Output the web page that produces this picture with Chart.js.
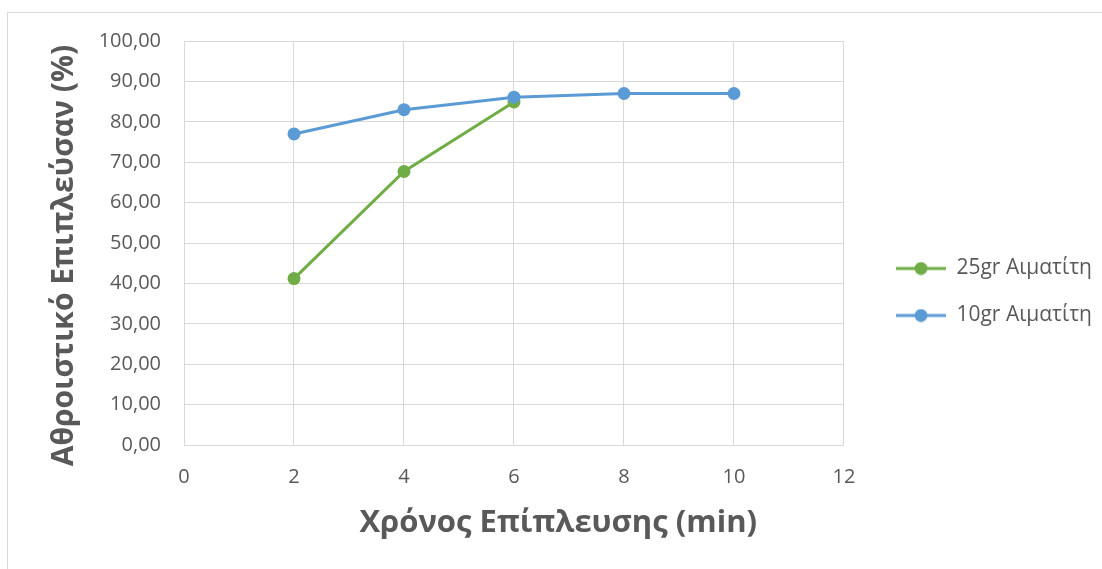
<!DOCTYPE html>
<html>
<head>
<meta charset="utf-8">
<script src="https://cdn.jsdelivr.net/npm/chart.js@4/dist/chart.umd.min.js"></script>
<style>
    html, body { margin: 0; padding: 0; background: #fff; }
    #wrap { width: 1102px; height: 569px; }
</style>
</head>
<body>
<div id="wrap"><canvas id="chart"></canvas></div>
<script>
// values
const times25 = [2, 4, 6];
const values25 = [41.2, 67.7, 84.9];
const times10 = [2, 4, 6, 8, 10];
const values10 = [77.0, 83.0, 86.1, 87.0, 87.0];
const seriesNames = ['25gr Αιματίτη', '10gr Αιματίτη'];
const seriesColours = ['#70AD47', '#5B9BD5'];
const xTitle = 'Χρόνος Επίπλευσης (min)';
const yTitle = 'Αθροιστικό Επιπλεύσαν (%)';

const textColour = '#595959';
const gridColour = '#D9D9D9';
const fontFamily = "'Open Sans', sans-serif";

Chart.defaults.font.family = fontFamily;
Chart.defaults.color = textColour;

function toPoints(xs, ys) {
    return xs.map(function (x, i) { return {x: x, y: ys[i]}; });
}

// little line-with-dot picture for the legend, like Excel draws it
function legendMarker(colour) {
    const c = document.createElement('canvas');
    c.width = 76;
    c.height = 14;
    const g = c.getContext('2d');
    g.strokeStyle = colour;
    g.lineWidth = 3;
    g.beginPath();
    g.moveTo(26, 7);
    g.lineTo(76, 7);
    g.stroke();
    g.fillStyle = colour;
    g.beginPath();
    g.arc(51, 7, 6.5, 0, 2 * Math.PI);
    g.fill();
    return c;
}
const markers = seriesColours.map(legendMarker);

// thin frame round the chart (left and top edges are visible in the picture)
const frame = {
    id: 'frame',
    beforeDraw(chart) {
        const ctx = chart.ctx;
        ctx.save();
        ctx.strokeStyle = gridColour;
        ctx.lineWidth = 1;
        ctx.beginPath();
        ctx.moveTo(7.5, chart.height);
        ctx.lineTo(7.5, 12.5);
        ctx.lineTo(chart.width, 12.5);
        ctx.stroke();
        ctx.restore();
    }
};

// axis titles sit a bit off-centre in the original, so draw them by hand
const axisTitles = {
    id: 'axisTitles',
    afterDraw(chart) {
        const a = chart.chartArea;
        const ctx = chart.ctx;
        ctx.save();
        ctx.fillStyle = textColour;
        ctx.textAlign = 'center';
        ctx.textBaseline = 'middle';
        ctx.font = 'bold 31px ' + fontFamily;
        ctx.fillText(xTitle, a.left + a.width * 0.567, a.bottom + 78);
        ctx.font = 'bold 30px ' + fontFamily;
        ctx.translate(64, a.top + a.height * 0.531);
        ctx.rotate(-Math.PI / 2);
        ctx.fillText(yTitle, 0, 0);
        ctx.restore();
    }
};

const datasets = [
    {label: seriesNames[0], data: toPoints(times25, values25), order: 1},
    {label: seriesNames[1], data: toPoints(times10, values10), order: 0}
];
datasets.forEach(function (ds, i) {
    ds.borderColor = seriesColours[i];
    ds.backgroundColor = seriesColours[i];
    ds.borderWidth = 3;
    ds.pointRadius = 6.5;
    ds.pointHoverRadius = 6.5;
    ds.pointBorderWidth = 0;
    ds.tension = 0;
});

const ctx = document.getElementById('chart').getContext('2d');
new Chart(ctx, {
    type: 'line',
    data: {datasets: datasets},
    plugins: [frame, axisTitles],
    options: {
        responsive: true,
        maintainAspectRatio: false,
        animation: false,
        layout: {
            padding: {top: 41, bottom: 26, left: 0, right: 0}
        },
        plugins: {
            tooltip: {enabled: false},
            legend: {
                position: 'right',
                labels: {
                    usePointStyle: true,
                    pointStyleWidth: 76,
                    padding: 26,
                    color: textColour,
                    font: {size: 21},
                    sort: function (a, b) { return a.datasetIndex - b.datasetIndex; },
                    generateLabels: function (chart) {
                        const items = Chart.defaults.plugins.legend.labels.generateLabels(chart);
                        items.forEach(function (item) {
                            item.pointStyle = markers[item.datasetIndex];
                        });
                        return items;
                    }
                }
            }
        },
        scales: {
            x: {
                type: 'linear',
                min: 0,
                max: 12,
                ticks: {
                    stepSize: 2,
                    padding: 20,
                    color: textColour,
                    font: {size: 20}
                },
                grid: {color: gridColour, drawTicks: false},
                border: {color: gridColour},
                afterFit: function (scale) { scale.height = 98; }
            },
            y: {
                min: 0,
                max: 100,
                ticks: {
                    stepSize: 10,
                    padding: 23,
                    color: textColour,
                    font: {size: 20},
                    callback: function (v) { return v.toFixed(2).replace('.', ','); }
                },
                grid: {color: gridColour, drawTicks: false},
                border: {color: gridColour},
                afterFit: function (scale) { scale.width = 184; }
            }
        }
    }
});
</script>
</body>
</html>
